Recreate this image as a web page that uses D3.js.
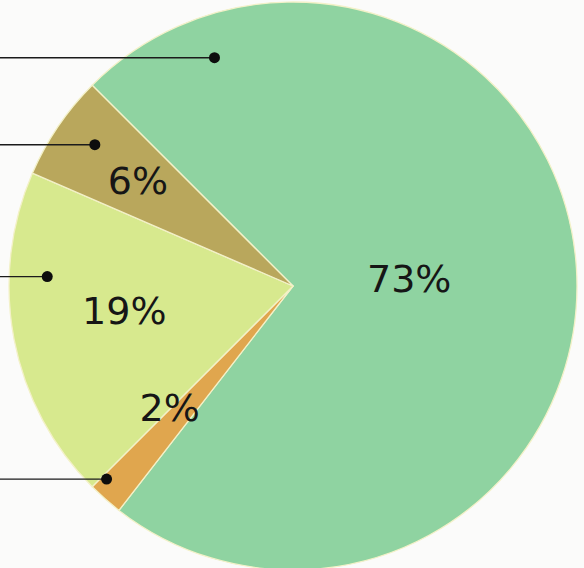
<!DOCTYPE html>
<html>
<head>
<meta charset="utf-8">
<script src="https://cdn.jsdelivr.net/npm/d3@7"></script>
<style>
  html, body { margin: 0; padding: 0; background: #fbfbfa; }
  svg { display: block; }
</style>
</head>
<body>
<svg id="chart"></svg>
<script>
// Data, clockwise from the top-left boundary.
const categories = ["green", "orange", "yellow", "olive"];
const values = [73, 2, 19, 6];
const labels = ["73%", "2%", "19%", "6%"];
const colors = ["#8fd3a1", "#e0a64e", "#d7e98e", "#b9a75c"];

const width = 584;
const height = 568;
const cx = 293;
const cy = 286;
const radius = 284;

// Label placement inside each slice: fraction along the slice, fraction of radius.
const labelPos = [
  { t: 0.5, r: 0.41 },
  { t: 1.05, r: 0.61 },
  { t: 0.54, r: 0.6 },
  { t: 0.5, r: 0.66 },
];
// Leader dot placement.
const dotPos = [
  { t: 0.099, r: 0.85 },
  { t: 0.86, r: 0.945 },
  { t: 0.69, r: 0.866 },
  { t: 0.56, r: 0.857 },
];

const svg = d3
  .select("#chart")
  .attr("width", width)
  .attr("height", height)
  .attr("viewBox", [0, 0, width, height]);

const pie = d3
  .pie()
  .sort(null)
  .value((d) => d)
  .startAngle(-Math.PI / 4)
  .endAngle(-Math.PI / 4 + 2 * Math.PI);

const arcs = pie(values);

const arc = d3.arc().innerRadius(0).outerRadius(radius);

const g = svg.append("g").attr("transform", `translate(${cx},${cy})`);

g.selectAll("path")
  .data(arcs)
  .join("path")
  .attr("d", arc)
  .attr("fill", (d, i) => colors[i])
  .attr("stroke", "#f3f1c8")
  .attr("stroke-width", 1.3)
  .attr("stroke-linejoin", "round");

// polar helper
const polar = (d, p) => {
  const a = d.startAngle + p.t * (d.endAngle - d.startAngle);
  const r = p.r * radius;
  return [Math.sin(a) * r, -Math.cos(a) * r];
};

// Leader lines going off to the left edge
const dots = arcs.map((d, i) => polar(d, dotPos[i]));

g.selectAll("line.leader")
  .data(dots)
  .join("line")
  .attr("class", "leader")
  .attr("x1", -cx)
  .attr("x2", (d) => d[0])
  .attr("y1", (d) => d[1])
  .attr("y2", (d) => d[1])
  .attr("stroke", "#1b1b1b")
  .attr("stroke-width", 1.4);

g.selectAll("circle.dot")
  .data(dots)
  .join("circle")
  .attr("class", "dot")
  .attr("cx", (d) => d[0])
  .attr("cy", (d) => d[1])
  .attr("r", 5.5)
  .attr("fill", "#0d0d0d");

// Percentage labels
g.selectAll("text")
  .data(arcs)
  .join("text")
  .attr("x", (d, i) => polar(d, labelPos[i])[0])
  .attr("y", (d, i) => polar(d, labelPos[i])[1])
  .attr("dy", "0.36em")
  .attr("text-anchor", "middle")
  .attr("fill", "#161616")
  .style("font", "38px 'DejaVu Sans'")
  .text((d, i) => labels[i]);
</script>
</body>
</html>
